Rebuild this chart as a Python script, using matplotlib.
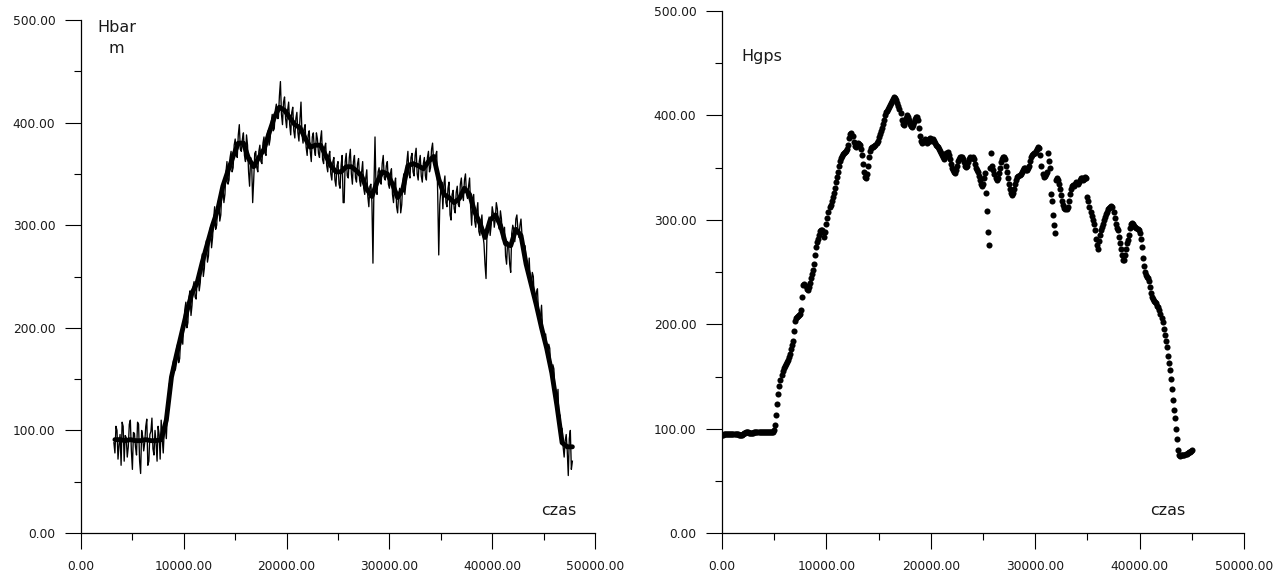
import numpy as np
import matplotlib
matplotlib.use("Agg")
from matplotlib import pyplot as plt
from matplotlib.ticker import MultipleLocator, FormatStrFormatter

# --- data ---

# barometric height, noisy trace: even samples (t = 3200, 3400, ...)
hbar_a = [
    88, 104, 72, 96, 108, 70, 93, 84, 110, 62,
    97, 76, 106, 58, 94, 88, 111, 70, 99, 82,
    100, 70, 96, 110, 78, 104, 115, 146, 150, 168,
    160, 184, 170, 200, 206, 225, 205, 236, 222, 245,
    228, 252, 244, 272, 258, 285, 270, 298, 288, 318,
    300, 325, 310, 340, 330, 362, 344, 372, 356, 384,
    366, 398, 372, 390, 362, 378, 338, 360, 344, 372,
    352, 378, 360, 386, 368, 392, 384, 408, 394, 418,
    404, 440, 398, 425, 395, 420, 388, 415, 385, 410,
    382, 420, 380, 398, 368, 392, 362, 390, 368, 384,
    366, 392, 360, 380, 352, 372, 344, 366, 338, 362,
    336, 368, 322, 370, 346, 374, 340, 368, 342, 365,
    338, 362, 330, 354, 318, 340, 263, 386, 330, 356,
    340, 368, 344, 362, 336, 355, 322, 346, 312, 336,
    320, 350, 340, 372, 346, 370, 348, 375, 344, 368,
    342, 366, 344, 372, 356, 380, 358, 372, 271, 335,
    316, 348, 318, 342, 305, 334, 312, 338, 318, 346,
    324, 350, 326, 346, 300, 330, 298, 322, 290, 310,
    282, 248, 300, 290, 318, 298, 322, 300, 314, 286,
    298, 262, 280, 254, 300, 284, 310, 288, 306, 282,
    280, 256, 268, 240, 250, 222, 238, 212, 222, 192,
    194, 170, 180, 150, 160, 132, 140, 115, 102, 74,
    96, 56, 100, 70,
]
# odd samples (t = 3300, 3500, ...)
hbar_b = [
    78, 100, 86, 66, 104, 95, 74, 106, 80, 98,
    84, 108, 70, 100, 80, 104, 66, 96, 112, 76,
    88, 104, 72, 92, 100, 92, 130, 136, 162, 158,
    180, 166, 192, 184, 218, 200, 230, 212, 240, 230,
    246, 236, 262, 250, 278, 264, 292, 278, 306, 296,
    320, 304, 334, 322, 352, 340, 366, 352, 378, 370,
    388, 374, 384, 368, 388, 352, 366, 322, 370, 356,
    372, 362, 380, 370, 388, 378, 400, 392, 412, 404,
    426, 408, 420, 404, 412, 398, 410, 392, 404, 390,
    404, 388, 394, 376, 388, 372, 386, 374, 390, 370,
    384, 364, 376, 358, 368, 350, 362, 344, 358, 340,
    358, 322, 362, 348, 366, 350, 362, 346, 360, 344,
    352, 336, 346, 328, 338, 322, 340, 334, 352, 342,
    360, 346, 358, 340, 350, 330, 340, 318, 330, 312,
    342, 330, 362, 350, 366, 352, 368, 350, 362, 348,
    360, 348, 366, 352, 374, 362, 368, 330, 320, 342,
    340, 322, 336, 310, 330, 316, 332, 320, 340, 330,
    344, 330, 338, 318, 322, 304, 314, 294, 302, 290,
    262, 296, 308, 300, 312, 306, 316, 296, 306, 292,
    270, 284, 262, 292, 296, 306, 296, 300, 290, 272,
    266, 250, 244, 254, 226, 234, 216, 210, 198, 188,
    176, 184, 158, 164, 138, 128, 108, 90, 84, 90,
    80, 92, 62,
]

# smoothed core of the barometric trace, every 500 s from t = 3300 s
hbar_core = [
    91, 91, 90, 91, 90, 90, 91, 90, 90, 91,
    110, 152, 174, 195, 216, 234, 244, 264, 282, 300,
    315, 338, 353, 367, 380, 380, 365, 357, 366, 374,
    390, 405, 415, 412, 405, 398, 395, 385, 376, 378,
    378, 368, 358, 352, 352, 357, 357, 353, 348, 335,
    328, 342, 352, 350, 340, 327, 335, 358, 360, 358,
    355, 362, 367, 345, 330, 327, 322, 326, 336, 330,
    313, 302, 288, 305, 310, 300, 282, 280, 296, 290,
    262, 242, 222, 200, 180, 156, 124, 88, 84, 84,
]

# GPS height, one fix every 100 s from t = 0
hgps = [
    94.5, 94.5, 95, 95, 95, 95, 95, 95, 95, 95,
    95, 95, 95, 95, 95, 95, 94, 94, 94, 94.5,
    95.5, 96, 96, 96.5, 96.5, 96.5, 96, 96, 96, 96,
    96, 96.5, 96.5, 96.5, 96.5, 96.5, 96.5, 96.5, 96.5, 96.5,
    96.5, 96.5, 96.5, 96.5, 96.5, 96.5, 96.5, 96.5, 96.5, 97,
    99, 104, 113, 124, 133, 141, 147, 152, 155, 158,
    160, 162, 164, 166, 169, 172, 176, 180, 184, 194,
    203, 206, 207, 208, 209, 210, 214, 226, 238, 239,
    237, 234, 233, 236, 240, 244, 248, 252, 258, 266,
    274, 279, 282, 286, 289, 290, 290, 288, 284, 288,
    296, 302, 308, 312, 314, 318, 322, 326, 331, 336,
    341, 346, 352, 356, 359, 361, 363, 364, 365, 366,
    368, 372, 378, 382, 383, 380, 375, 371, 370, 372,
    374, 373, 372, 368, 362, 354, 346, 341, 340, 344,
    352, 360, 366, 369, 370, 370, 371, 372, 374, 376,
    379, 382, 385, 388, 392, 396, 400, 403, 404, 406,
    408, 410, 412, 414, 416, 418, 417, 415, 412, 409,
    406, 402, 396, 392, 391, 394, 398, 400, 399, 396,
    392, 390, 389, 391, 394, 397, 399, 399, 396, 388,
    380, 376, 374, 375, 377, 376, 374, 375, 377, 378,
    377, 376, 377, 376, 374, 372, 371, 370, 368, 366,
    364, 362, 360, 358, 360, 364, 365, 362, 358, 354,
    350, 348, 346, 345, 348, 352, 356, 358, 360, 360,
    360, 358, 355, 352, 351, 352, 355, 358, 360, 359,
    360, 358, 354, 350, 348, 346, 342, 338, 334, 332,
    334, 340, 345, 326, 309, 288, 276, 350, 364, 352,
    348, 344, 340, 338, 340, 345, 350, 355, 358, 360,
    360, 358, 352, 346, 340, 334, 330, 326, 324, 326,
    330, 334, 338, 341, 342, 343, 344, 346, 348, 350,
    350, 348, 348, 350, 352, 356, 360, 362, 363, 364,
    364, 366, 368, 370, 369, 362, 352, 344, 341, 342,
    344, 346, 364, 356, 350, 325, 318, 305, 295, 287,
    338, 340, 338, 334, 330, 324, 318, 314, 311, 310,
    310, 312, 318, 325, 330, 332, 333, 332, 334, 336,
    335, 334, 336, 338, 340, 340, 338, 339, 341, 340,
    322, 318, 312, 308, 304, 300, 296, 290, 282, 276,
    272, 280, 286, 290, 293, 296, 300, 303, 306, 308,
    310, 311, 312, 313, 312, 308, 302, 296, 292, 290,
    284, 278, 272, 266, 262, 262, 266, 272, 278, 281,
    286, 292, 296, 297, 296, 294, 293, 292, 291, 290,
    287, 282, 274, 264, 256, 250, 247, 245, 244, 242,
    236, 230, 226, 224, 222, 221, 220, 218, 217, 214,
    210, 206, 202, 196, 190, 184, 178, 170, 163, 156,
    148, 138, 128, 118, 110, 100, 90, 80, 75, 74,
    75, 75, 75, 75, 76, 76, 77, 78, 78, 79,
    80,
]

# sample times (s)
t_a = 3200 + 200 * np.arange(len(hbar_a))
t_b = 3300 + 200 * np.arange(len(hbar_b))
order = np.argsort(np.concatenate([t_a, t_b]), kind='stable')
hbar_time = np.concatenate([t_a, t_b])[order]
hbar = np.concatenate([hbar_a, hbar_b])[order]
hbar_core_time = 3300 + 500 * np.arange(len(hbar_core))
hgps_time = 100 * np.arange(len(hgps))

W, H = 1274, 574
TXT = '#1a1a1a'


def style_axes(ax):
    """Old-school axes: left/bottom only, long outward ticks."""
    ax.set_xlim(0, 50000)
    ax.set_ylim(0, 500)
    for side in ('top', 'right'):
        ax.spines[side].set_visible(False)
    for side in ('left', 'bottom'):
        ax.spines[side].set_linewidth(0.9)
    ax.xaxis.set_major_locator(MultipleLocator(10000))
    ax.xaxis.set_minor_locator(MultipleLocator(5000))
    ax.yaxis.set_major_locator(MultipleLocator(100))
    ax.yaxis.set_minor_locator(MultipleLocator(50))
    ax.xaxis.set_major_formatter(FormatStrFormatter('%.2f'))
    ax.yaxis.set_major_formatter(FormatStrFormatter('%.2f'))
    ax.tick_params(which='major', direction='out', length=11.5, width=0.8,
                   labelsize=8.8, labelcolor=TXT)
    ax.tick_params(which='minor', direction='out', length=5, width=0.8)
    ax.tick_params(axis='y', which='major', pad=7)
    ax.tick_params(axis='x', which='major', pad=8)


def px_text(fig, x, y, s, **kw):
    fig.text(x / W, 1 - y / H, s, ha='center', va='baseline',
             fontsize=11.5, color=TXT, **kw)


fig = plt.figure(figsize=(W / 100, H / 100), dpi=100)

# left panel - barometric height: core band plus thin noisy trace
ax1 = fig.add_axes([81 / W, 1 - 533 / H, 514 / W, 513 / H])
ax1.plot(hbar_core_time, hbar_core, color='black', linewidth=3.5,
         solid_joinstyle='round', solid_capstyle='round')
ax1.plot(hbar_time, hbar, color='black', linewidth=0.95)
style_axes(ax1)

# right panel - GPS height as dots
ax2 = fig.add_axes([722 / W, 1 - 533.3 / H, 522 / W, 522.3 / H])
ax2.plot(hgps_time, hgps, linestyle='none', marker='o', markersize=4.4,
         markeredgewidth=0, color='black')
style_axes(ax2)

px_text(fig, 117, 32, 'Hbar')
px_text(fig, 116, 53, 'm')
px_text(fig, 762, 61, 'Hgps')
px_text(fig, 559, 515, 'czas')
px_text(fig, 1168, 515, 'czas')

fig.savefig('out.png', dpi=100)
